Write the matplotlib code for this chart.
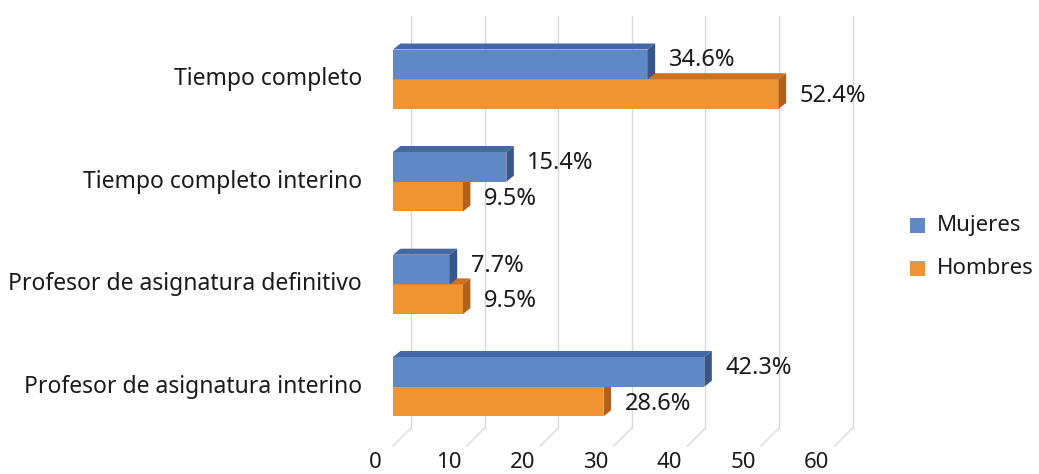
import matplotlib.pyplot as plt
from matplotlib.patches import Polygon

plt.rcParams['font.family'] = ['Noto Sans', 'DejaVu Sans']

categories = ['Tiempo completo', 'Tiempo completo interino',
              'Profesor de asignatura definitivo', 'Profesor de asignatura interino']
mujeres = [34.6, 15.4, 7.7, 42.3]
hombres = [52.4, 9.5, 9.5, 28.6]
ticks = [0, 10, 20, 30, 40, 50, 60]

W, H = 1039, 474
fig = plt.figure(figsize=(W / 100, H / 100), dpi=100)
ax = fig.add_axes([0, 0, 1, 1])
ax.axis('off')

# x in data units (percent), y in pixel rows from the top
x0_px, px_per_unit = 393, 7.36
ax.set_xlim(-x0_px / px_per_unit, (W - x0_px) / px_per_unit)
ax.set_ylim(H, 0)

def u(px):
    return px / px_per_unit

txt = '#1a1a1a'

# back wall and floor gridlines
wall_dx, wall_dy = 18, -18
grid_top, floor_y = 16, 446
for t in ticks:
    xb = t + u(wall_dx)
    ax.plot([xb, xb], [grid_top, floor_y + wall_dy], color='#d9d9d9', lw=1, zorder=0)
    ax.plot([xb, t], [floor_y + wall_dy, floor_y], color='#d9d9d9', lw=1, zorder=0)
    ax.text(t - u(18), 463, str(t), ha='center', va='center', fontsize=16, color=txt)

# 3D bars: front face + top + side
bar_h = 29.7
depth_dx, depth_dy = u(7.5), -6
centers = [79.2, 181.7, 284.4, 386.7]
series = [
    (hombres, +bar_h / 2, '#f09433', '#cc7122', '#b0621c', 2),
    (mujeres, -bar_h / 2, '#5e89c6', '#4468a6', '#38568c', -4),
]
for vals, off, c_front, c_top, c_side, lab_dy in series:
    ys = [c + off for c in centers]
    ax.barh(ys, vals, height=bar_h, left=0, color=c_front, zorder=2)
    for v, y in zip(vals, ys):
        top, bot = y - bar_h / 2, y + bar_h / 2
        ax.add_patch(Polygon([(0, top), (v, top), (v + depth_dx, top + depth_dy),
                              (depth_dx, top + depth_dy)], closed=True,
                             facecolor=c_top, edgecolor='none', zorder=2))
        ax.add_patch(Polygon([(v, top), (v + depth_dx, top + depth_dy),
                              (v + depth_dx, bot + depth_dy), (v, bot)], closed=True,
                             facecolor=c_side, edgecolor='none', zorder=2))
        ax.text(v + u(21), y + lab_dy, f'{v:.1f}%', ha='left', va='center',
                fontsize=17, color=txt, zorder=3)

for cat, c in zip(categories, centers):
    ax.text(u(362 - x0_px), c, cat, ha='right', va='center', fontsize=16.5, color=txt)

# legend
for label, color, ly in [('Mujeres', '#5e89c6', 225), ('Hombres', '#f09433', 268)]:
    ax.add_patch(Polygon([(u(910 - x0_px), ly - 7.5), (u(925 - x0_px), ly - 7.5),
                          (u(925 - x0_px), ly + 7.5), (u(910 - x0_px), ly + 7.5)],
                         closed=True, facecolor=color, edgecolor='none'))
    ax.text(u(937 - x0_px), ly, label, ha='left', va='center', fontsize=16, color=txt)

fig.savefig('out.png', dpi=100, facecolor='white')
